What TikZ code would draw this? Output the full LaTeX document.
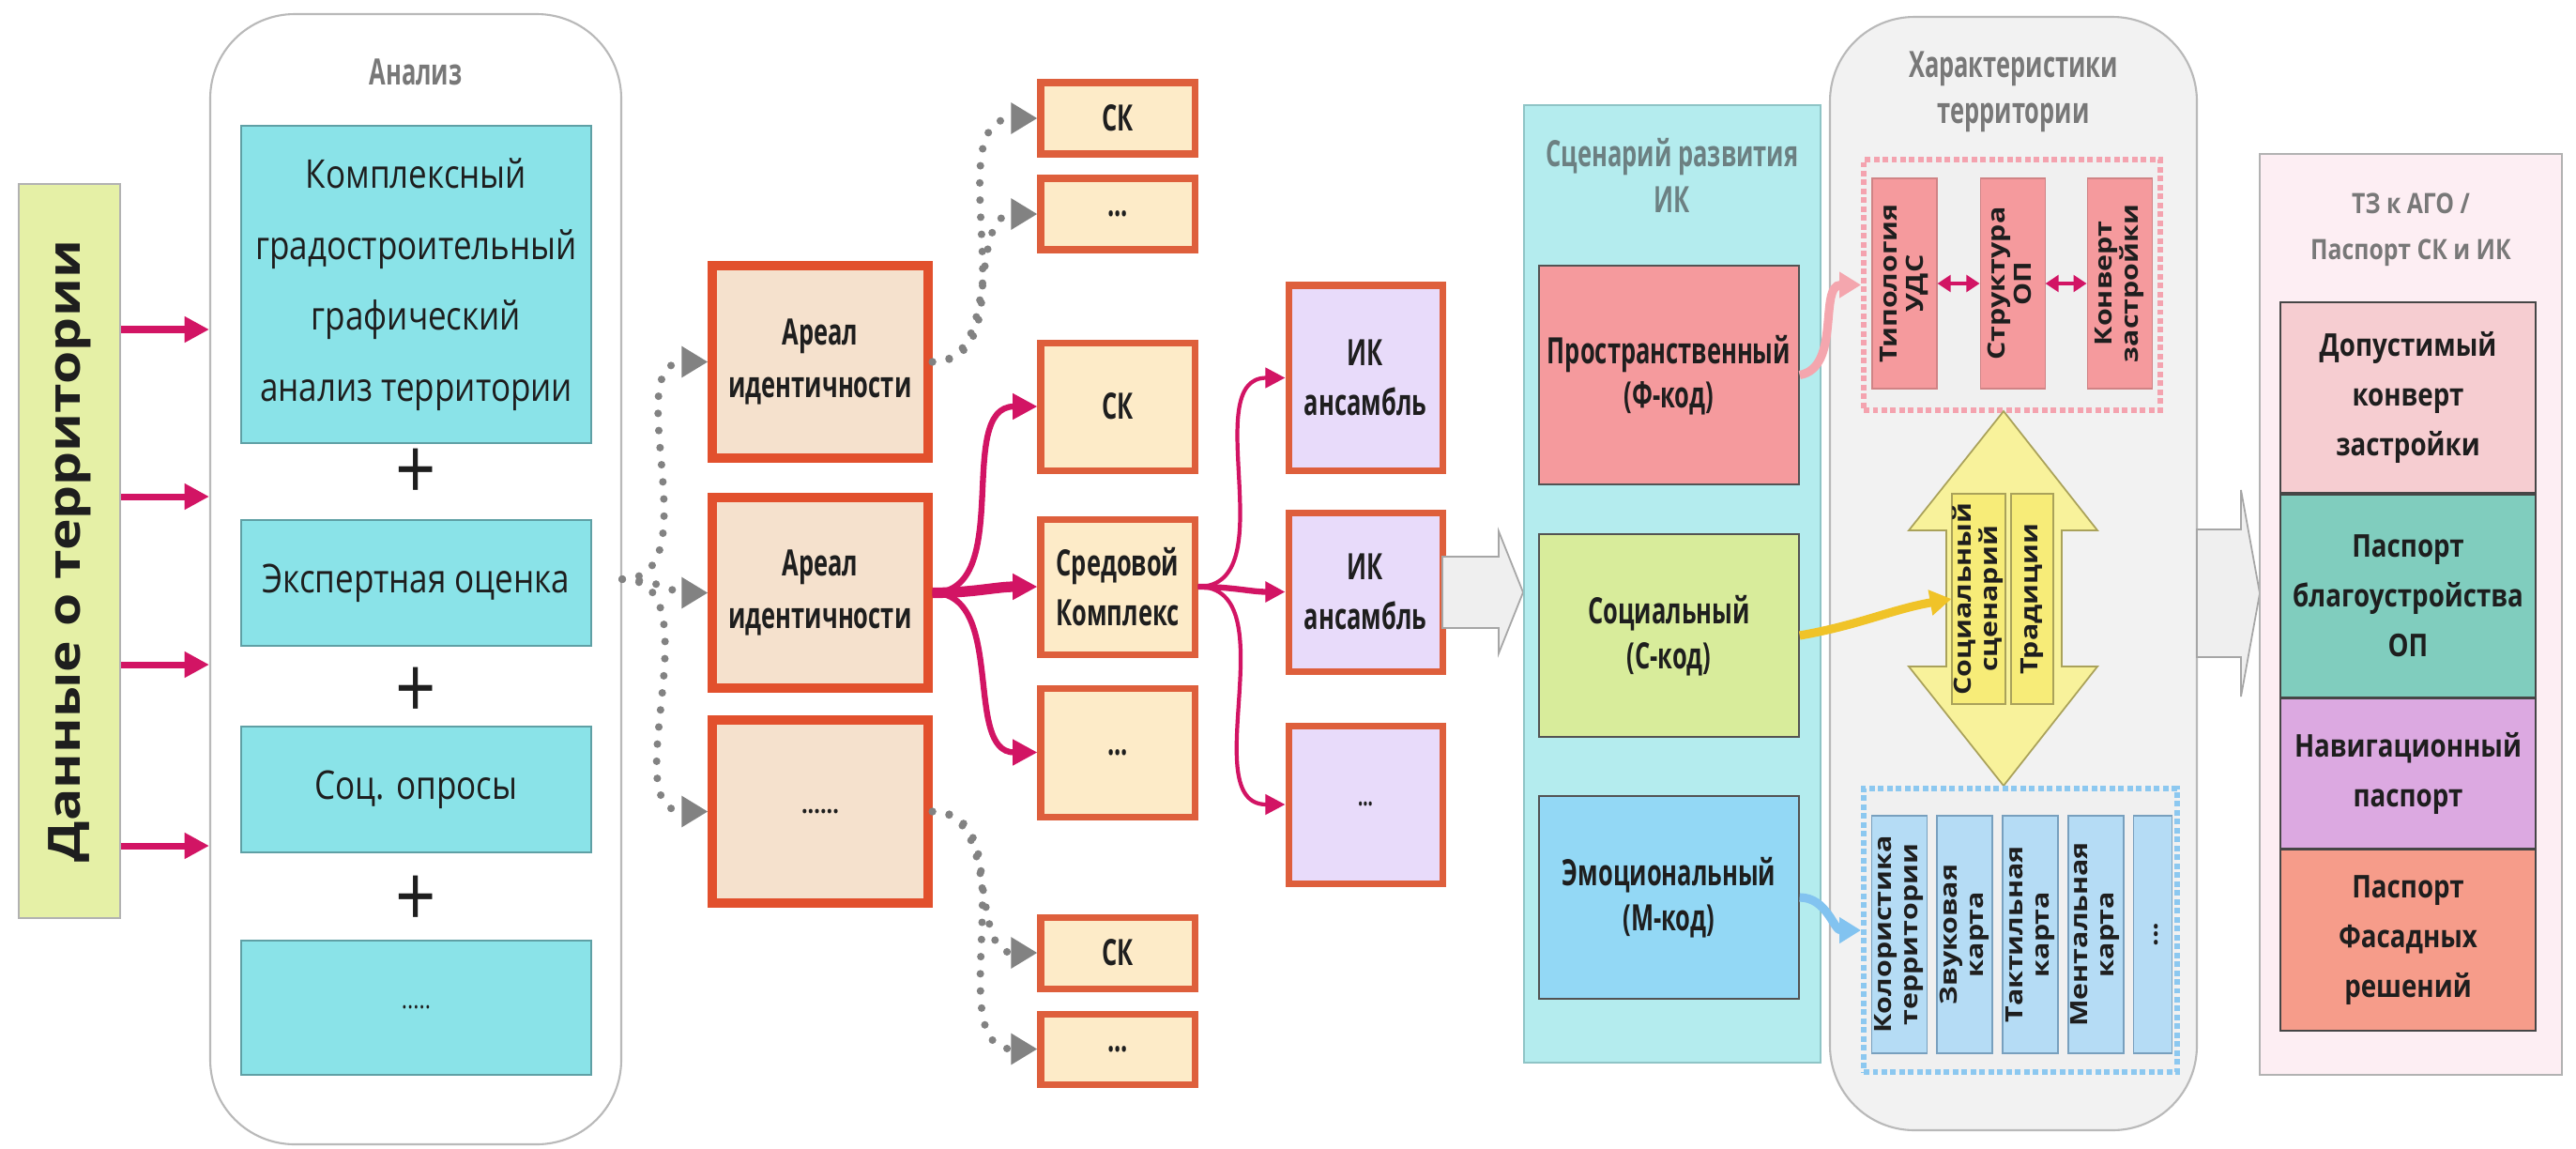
\documentclass[tikz,border=0pt]{standalone}
\usepackage{fontspec}
\setmainfont{Open Sans}[FakeStretch=0.83]
\newfontfamily\condfont{Open Sans}[FakeStretch=0.66]
\newfontfamily\vfont{Open Sans}[FakeStretch=1.2]
\usepackage{xcolor}
\usepackage{tikz}
\usetikzlibrary{arrows.meta, positioning, calc}
\definecolor{diag-ink}{RGB}{30, 30, 30}
\definecolor{diag-title}{RGB}{120, 120, 120}
\definecolor{diag-scentitle}{RGB}{108, 128, 130}
\definecolor{diag-data}{RGB}{229, 240, 166}
\definecolor{diag-cyan}{RGB}{138, 227, 232}
\definecolor{diag-cyanline}{RGB}{95, 160, 165}
\definecolor{diag-peach}{RGB}{245, 225, 205}
\definecolor{diag-red}{RGB}{226, 80, 45}
\definecolor{diag-cream}{RGB}{253, 235, 200}
\definecolor{diag-red2}{RGB}{222, 95, 60}
\definecolor{diag-lilac}{RGB}{232, 219, 250}
\definecolor{diag-mag}{RGB}{210, 20, 100}
\definecolor{diag-dot}{RGB}{130, 130, 130}
\definecolor{diag-scen}{RGB}{180, 236, 238}
\definecolor{diag-scenline}{RGB}{143, 196, 198}
\definecolor{diag-rose}{RGB}{245, 154, 157}
\definecolor{diag-lime}{RGB}{216, 236, 155}
\definecolor{diag-sky}{RGB}{147, 216, 245}
\definecolor{diag-har}{RGB}{242, 242, 242}
\definecolor{diag-pinkdash}{RGB}{244, 163, 175}
\definecolor{diag-yel}{RGB}{248, 242, 155}
\definecolor{diag-yelin}{RGB}{247, 236, 120}
\definecolor{diag-yelline}{RGB}{170, 162, 90}
\definecolor{diag-bluedash}{RGB}{140, 200, 240}
\definecolor{diag-blue}{RGB}{181, 220, 245}
\definecolor{diag-blueline}{RGB}{120, 160, 190}
\definecolor{diag-tz}{RGB}{253, 238, 243}
\definecolor{diag-tz1}{RGB}{246, 205, 209}
\definecolor{diag-tz2}{RGB}{128, 205, 190}
\definecolor{diag-tz3}{RGB}{220, 169, 225}
\definecolor{diag-tz4}{RGB}{246, 156, 138}
\definecolor{diag-block}{RGB}{239, 239, 239}
\definecolor{diag-yelarr}{RGB}{240, 195, 40}
\definecolor{diag-bluearr}{RGB}{130, 195, 240}
\definecolor{diag-pinkarr}{RGB}{244, 166, 174}
\newcommand{\vlab}[1]{\rotatebox{90}{\begin{tabular}{@{}c@{}}#1\end{tabular}}}

\begin{document}
\begin{tikzpicture}[
    base/.style={rectangle, align=center, inner sep=1pt, text=diag-ink},
    databox/.style={base, draw=gray!60, fill=diag-data, line width=0.5pt,
                    font=\vfont\bfseries\fontsize{13.5}{16}\selectfont},
    groupbox/.style={rectangle, rounded corners=0.9cm, draw=gray!55, fill=white, line width=0.6pt},
    grouptitle/.style={align=center, text=diag-title, font=\condfont\bfseries\fontsize{11}{14}\selectfont},
    cyanbox/.style={base, draw=diag-cyanline, fill=diag-cyan, line width=0.5pt,
                    minimum width=3.73cm, font=\fontsize{12}{21.5}\selectfont},
    plussign/.style={text=diag-ink, font=\fontsize{26}{26}\selectfont, inner sep=0pt},
    arealbox/.style={base, draw=diag-red, fill=diag-peach, line width=2.6pt,
                     minimum width=2.30cm, font=\condfont\bfseries\fontsize{11}{16}\selectfont},
    skbox/.style={base, draw=diag-red2, fill=diag-cream, line width=2pt,
                  minimum width=1.64cm, font=\condfont\bfseries\fontsize{11}{15}\selectfont},
    ikbox/.style={skbox, fill=diag-lilac},
    scenbox/.style={rectangle, draw=diag-scenline, fill=diag-scen, line width=0.6pt},
    codebox/.style={base, draw=gray!65!black, line width=0.4pt, minimum width=2.77cm,
                    font=\condfont\bfseries\fontsize{11}{13.5}\selectfont},
    pinkframe/.style={rectangle, draw=diag-pinkdash, fill=gray!12, line width=1.7pt,
                      dash pattern=on 1.7pt off 1pt},
    blueframe/.style={pinkframe, draw=diag-bluedash},
    vbox/.style={base, inner sep=0pt, font=\vfont\bfseries\fontsize{7.2}{8}\selectfont},
    pinkbox/.style={vbox, fill=diag-rose, draw=diag-rose!85!black, line width=0.3pt,
                    minimum width=0.69cm, minimum height=2.24cm},
    yelbox/.style={vbox, draw=diag-yelline, fill=diag-yelin, line width=0.5pt, minimum height=2.24cm},
    bluebox/.style={vbox, draw=diag-blueline, fill=diag-blue, line width=0.5pt,
                    minimum width=0.59cm, minimum height=2.53cm},
    tzbox/.style={base, draw=gray!55!black, line width=0.5pt, minimum width=2.72cm,
                  font=\bfseries\fontsize{9.5}{15}\selectfont},
    blockarr/.style={draw=gray!70, fill=diag-block, line width=0.5pt},
    yelarrow/.style={draw=diag-yelline, fill=diag-yel, line width=0.5pt},
    inarr/.style={draw=diag-mag, line width=2pt, -{Triangle[length=7.5pt,width=7.5pt]}},
    dotarr/.style={draw=diag-dot, line width=2.3pt, line cap=round, dash pattern=on 0pt off 5.2pt,
                   -{Triangle[length=8pt,width=9pt]}},
    magarr/.style={draw=diag-mag, line width=1.8pt, -{Triangle[length=7.5pt,width=7.5pt]}},
    magthin/.style={draw=diag-mag, line width=1.2pt, -{Triangle[length=6pt,width=6pt]}},
    dblarr/.style={draw=diag-mag, line width=1.3pt,
                   {Triangle[length=4pt,width=5pt]}-{Triangle[length=4pt,width=5pt]}},
    softarr/.style={line width=2.6pt, -{Triangle[length=6.5pt,width=7.5pt]}}
  ]
    \fill[white] (0,0) rectangle (27.45,-12.23);
    \useasboundingbox (0,0) rectangle (27.45,-12.23);

    \node[databox, minimum width=1.08cm, minimum height=7.82cm] (data) at (0.74,-5.87)
      {\rotatebox{90}{Данные о территории}};

    \node[groupbox, minimum width=4.38cm, minimum height=12.04cm] (analiz) at (4.43,-6.17) {};
    \node[grouptitle] (analiztitle) at (4.43,-0.77) {Анализ};
    \node[cyanbox, minimum height=3.38cm] (kga) at (4.435,-3.03)
      {Комплексный\\градостроительный\\графический\\анализ территории};
    \node[cyanbox, minimum height=1.34cm] (expert) at (4.435,-6.21) {Экспертная оценка};
    \node[cyanbox, minimum height=1.34cm] (opros) at (4.435,-8.41) {Соц. опросы};
    \node[cyanbox, minimum height=1.43cm, font=\fontsize{8}{10}\selectfont] (anmore) at (4.435,-10.735) {.....};
    \node[plussign] (plus1) at (4.43,-5.05) {+};
    \node[plussign] (plus2) at (4.43,-7.38) {+};
    \node[plussign] (plus3) at (4.43,-9.60) {+};

    \foreach \yy in {3.51,5.29,7.08,9.01}
      \draw[inarr] (data.east |- 0,-\yy) -- (analiz.west |- 0,-\yy);

    \node[arealbox, minimum height=2.05cm] (areal1) at (8.74,-3.855) {Ареал\\идентичности};
    \node[arealbox, minimum height=2.03cm] (areal2) at (8.74,-6.315) {Ареал\\идентичности};
    \node[arealbox, minimum height=1.95cm, font=\bfseries\fontsize{8}{10}\selectfont] (areal3) at (8.74,-8.645) {......};

    \node[skbox, minimum height=0.76cm] (sk1) at (11.91,-1.26) {СК};
    \node[skbox, minimum height=0.76cm] (skmore1) at (11.91,-2.28) {...};
    \node[skbox, minimum height=1.36cm] (sk2) at (11.91,-4.33) {СК};
    \node[skbox, minimum height=1.44cm] (sred) at (11.91,-6.25) {Средовой\\Комплекс};
    \node[skbox, minimum height=1.37cm] (skmore2) at (11.91,-8.015) {...};
    \node[skbox, minimum height=0.76cm] (sk3) at (11.91,-10.15) {СК};
    \node[skbox, minimum height=0.75cm] (skmore3) at (11.91,-11.175) {...};

    \node[ikbox, minimum height=1.97cm] (ik1) at (14.55,-4.025) {ИК\\ансамбль};
    \node[ikbox, minimum height=1.69cm] (ik2) at (14.55,-6.305) {ИК\\ансамбль};
    \node[ikbox, minimum height=1.68cm, font=\condfont\bfseries\fontsize{8}{10}\selectfont] (ik3) at (14.55,-8.57) {...};

    \draw[dotarr] (analiz.east) to[out=0,in=180] (areal1.west);
    \draw[dotarr] (analiz.east) to[out=0,in=180] (areal2.west);
    \draw[dotarr] (analiz.east) to[out=0,in=180] (areal3.west);
    \draw[dotarr] (areal1.east) to[out=0,in=180] (sk1.west);
    \draw[dotarr] (areal1.east) to[out=0,in=180] (skmore1.west);
    \draw[dotarr] (areal3.east) to[out=0,in=180] (sk3.west);
    \draw[dotarr] (areal3.east) to[out=0,in=180] (skmore3.west);

    \draw[magarr] (areal2.east) to[out=0,in=180] (sk2.west);
    \draw[magarr, line width=3.2pt] (areal2.east) to[out=0,in=180] (sred.west);
    \draw[magarr] (areal2.east) to[out=0,in=180] (skmore2.west);
    \draw[magthin] (sred.east) to[out=0,in=180] (ik1.west);
    \draw[magthin, line width=1.8pt] (sred.east) to[out=0,in=180] (ik2.west);
    \draw[magthin] (sred.east) to[out=0,in=180] (ik3.west);

    \filldraw[blockarr] (15.37,-5.93) -- (15.97,-5.93) -- (15.97,-5.66) -- (16.23,-6.31)
      -- (15.97,-6.96) -- (15.97,-6.69) -- (15.37,-6.69) -- cycle;

    \node[scenbox, minimum width=3.16cm, minimum height=10.20cm] (scen) at (17.82,-6.22) {};
    \node[grouptitle, text=diag-scentitle] (scentitle) at (17.82,-1.865) {Сценарий развития\\ИК};
    \node[codebox, fill=diag-rose, minimum height=2.33cm] (prost) at (17.785,-3.995) {Пространственный\\(Ф-код)};
    \node[codebox, fill=diag-lime, minimum height=2.16cm] (soc) at (17.785,-6.77) {Социальный\\(С-код)};
    \node[codebox, fill=diag-sky, minimum height=2.16cm] (emo) at (17.785,-9.56) {Эмоциональный\\(М-код)};

    \node[groupbox, fill=diag-har, minimum width=3.91cm, minimum height=11.86cm] (har) at (21.455,-6.11) {};
    \node[grouptitle] (hartitle) at (21.455,-0.98) {Характеристики\\территории};

    \node[pinkframe, minimum width=3.16cm, minimum height=2.67cm] (pframe) at (21.44,-3.035) {};
    \node[pinkbox] (tip) at (20.295,-3.02) {\vlab{Типология\\УДС}};
    \node[pinkbox, right=0.45cm of tip] (struct) {\vlab{Структура\\ОП}};
    \node[pinkbox, right=0.44cm of struct] (konv) {\vlab{Конверт\\застройки}};
    \draw[dblarr] (tip) -- (struct);
    \draw[dblarr] (struct) -- (konv);

    \filldraw[yelarrow] (21.35,-4.38) -- (22.35,-5.65) -- (21.97,-5.65) -- (21.97,-7.10)
      -- (22.35,-7.10) -- (21.35,-8.37) -- (20.34,-7.10) -- (20.74,-7.10)
      -- (20.74,-5.65) -- (20.34,-5.65) -- cycle;
    \node[yelbox, minimum width=0.55cm] (socsc) at (21.085,-6.38) {\vlab{Социальный\\сценарий}};
    \node[yelbox, minimum width=0.45cm] (trad) at (21.655,-6.38) {\vlab{Традиции}};

    \node[blueframe, minimum width=3.34cm, minimum height=3.02cm] (bframe) at (21.53,-9.91) {};
    \node[bluebox] (kolor) at (20.24,-9.955) {\vlab{Колористика\\территории}};
    \node[bluebox, right=0.09cm of kolor] (zvuk) {\vlab{Звуковая\\карта}};
    \node[bluebox, right=0.09cm of zvuk] (takt) {\vlab{Тактильная\\карта}};
    \node[bluebox, right=0.09cm of takt] (ment) {\vlab{Ментальная\\карта}};
    \node[bluebox, right=0.09cm of ment, minimum width=0.41cm] (bmore) {\vlab{...}};

    \draw[softarr, diag-pinkarr] (prost.east) to[out=10,in=180] (pframe.west);
    \draw[softarr, diag-yelarr] (soc.east) to[out=10,in=190] (socsc.west);
    \draw[softarr, diag-bluearr] (emo.east) to[out=0,in=180] (bframe.west);

    \filldraw[blockarr] (23.41,-5.64) -- (23.88,-5.64) -- (23.88,-5.22) -- (24.08,-6.32)
      -- (23.88,-7.42) -- (23.88,-7.00) -- (23.41,-7.00) -- cycle;

    \node[rectangle, draw=gray!60, fill=diag-tz, line width=0.6pt,
          minimum width=3.22cm, minimum height=9.81cm] (tz) at (25.69,-6.545) {};
    \node[grouptitle, font=\bfseries\fontsize{8.5}{14}\selectfont] (tztitle) at (25.69,-2.45)
      {ТЗ к АГО /\\Паспорт СК и ИК};
    \node[tzbox, fill=diag-tz1, minimum height=2.03cm] (tz1) at (25.66,-4.235) {Допустимый\\конверт\\застройки};
    \node[tzbox, fill=diag-tz2, minimum height=2.16cm, below=0pt of tz1] (tz2) {Паспорт\\благоустройства\\ОП};
    \node[tzbox, fill=diag-tz3, minimum height=1.59cm, below=0pt of tz2] (tz3) {Навигационный\\паспорт};
    \node[tzbox, fill=diag-tz4, minimum height=1.93cm, below=0pt of tz3] (tz4) {Паспорт\\Фасадных\\решений};
  \end{tikzpicture}
\end{document}
